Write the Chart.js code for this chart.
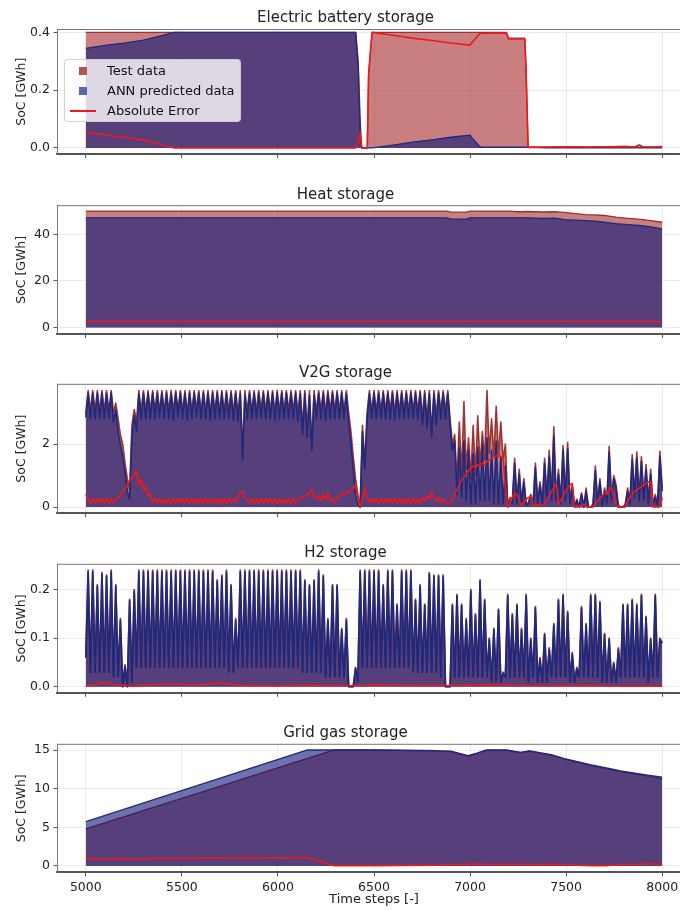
<!DOCTYPE html>
<html>
<head>
<meta charset="utf-8">
<script src="https://cdn.jsdelivr.net/npm/chart.js@4.4.1/dist/chart.umd.min.js"></script>
<style>
  html, body { margin: 0; padding: 0; background: #fff; }
  #fig { position: relative; width: 680px; height: 911px; overflow: hidden; }
  #fig canvas { position: absolute; left: 0; }
  #legend {
    position: absolute; left: 64px; top: 59px; width: 175px; height: 61px;
    background: rgba(255,255,255,0.8); border: 1px solid rgba(200,200,200,0.8);
    border-radius: 4px; font: 13px 'DejaVu Sans', sans-serif; color: #111;
  }
  #legend .row { display: flex; align-items: center; height: 19px; margin-top: 1px; }
  #legend .hb { width: 42px; height: 19px; position: relative; flex: none; }
  #legend .sq { position: absolute; left: 14px; top: 5.5px; width: 8px; height: 8px; }
  #legend .ln { position: absolute; left: 5px; top: 8.5px; width: 26px; height: 2px; background: rgb(240,25,25); }
</style>
</head>
<body>
<div id="fig">
  <canvas id="c1"></canvas>
  <canvas id="c2"></canvas>
  <canvas id="c3"></canvas>
  <canvas id="c4"></canvas>
  <canvas id="c5"></canvas>
  <div id="legend">
    <div class="row"><span class="hb"><span class="sq" style="background:#b05555"></span></span>Test data</div>
    <div class="row"><span class="hb"><span class="sq" style="background:#5a68b0"></span></span>ANN predicted data</div>
    <div class="row"><span class="hb"><span class="ln"></span></span>Absolute Error</div>
  </div>
</div>
<script>
// ===== DATA =====
const xTicks = [5000, 5500, 6000, 6500, 7000, 7500, 8000];

// Electric battery storage
const batX    = [5000,5100,5200,5300,5390,5460,5800,6100,6405,6418,6428,6436,6465,6472,6490,6600,6700,6800,6900,7000,7010,7030,7050,7060,7190,7200,7285,7292,7302,7400,7500,7600,7700,7800,7860,7880,7900,7960,8000];
const batTest = [0.4,0.4,0.4,0.4,0.4,0.4,0.4,0.4,0.4, 0.3,0.1,0,0,0.255,0.4, 0.4,0.4,0.4,0.4,0.4,0.4,0.4,0.4,0.4,0.4, 0.38,0.38,0.26,0.004, 0.003,0.004,0.003,0.004,0.005,0.004,0.01,0.004,0.003,0.005];
const batAnn  = [0.345,0.355,0.363,0.373,0.388,0.4,0.4,0.4,0.4, 0.28,0.05,0,0,0,0, 0.01,0.02,0.028,0.037,0.044,0.035,0.02,0.005,0.003,0.003, 0.003,0.003,0.003,0.002, 0,0,0,0,0,0,0,0,0,0];
const batErr  = [0.055,0.045,0.037,0.027,0.012,0,0,0,0, 0.02,0.05,0,0,0.255,0.4, 0.39,0.38,0.372,0.363,0.356,0.365,0.38,0.395,0.397,0.397, 0.377,0.377,0.257,0.002, 0.003,0.004,0.003,0.004,0.005,0.004,0.01,0.004,0.003,0.005];
const batTicks = [0, 0.2, 0.4];
const batTickLabels = ['0.0', '0.2', '0.4'];

// Heat storage
const heatX    = [5000,5500,6000,6500,6880,6900,6980,7000,7200,7250,7300,7380,7440,7490,7550,7600,7650,7700,7760,7820,7880,7940,8000];
const heatTest = [50,50,50,50,50,49.5,49.5,50,50,49.7,49.8,49.6,49.7,49.4,48.9,48.5,48.4,48.1,47.4,46.9,46.5,45.9,45.2];
const heatAnn  = [47.1,47.1,47.1,47.1,47.1,46.5,46.5,47.1,47.1,47.1,47.1,46.8,47,46.3,46.1,45.9,45.7,45.2,44.6,44.2,43.8,43.2,42.3];
const heatErr  = [2.6,2.6,2.6,2.65,2.7,2.7,2.7,2.7,2.7,2.7,2.7,2.7,2.7,2.65,2.6,2.6,2.6,2.6,2.6,2.6,2.6,2.6,2.6];
const heatTicks = [0, 20, 40];
const heatTickLabels = ['0', '20', '40'];

// V2G storage, sampled every 12 time steps from 5000 to 8000
const v2gTest = [
  2.95, 3.7, 3.05, 3.7, 3.05, 3.7, 3.05, 3.7, 3.05, 3.7,
  3.05, 3.7, 3.0, 3.3, 2.8, 2.3, 2.0, 1.4, 0.9, 0.55,
  2.6, 3.1, 2.7, 3.7, 3.05, 3.7, 3.05, 3.7, 3.05, 3.7,
  3.05, 3.7, 3.05, 3.7, 3.05, 3.7, 3.05, 3.7, 3.05, 3.7,
  3.1, 3.7, 3.05, 3.7, 3.0, 3.7, 3.05, 3.7, 3.1, 3.7,
  3.05, 3.7, 3.05, 3.7, 3.0, 3.7, 3.05, 3.7, 3.05, 3.7,
  3.05, 3.7, 3.05, 3.7, 3.0, 3.7, 3.0, 3.7, 1.8, 3.7,
  3.05, 3.7, 3.05, 3.7, 3.05, 3.7, 3.1, 3.7, 3.05, 3.7,
  3.05, 3.7, 3.0, 3.7, 3.05, 3.7, 3.05, 3.7, 3.05, 3.7,
  3.05, 3.7, 3.0, 3.7, 2.6, 3.7, 2.5, 3.7, 2.0, 3.7,
  3.05, 3.7, 3.05, 3.7, 3.0, 3.7, 3.05, 3.7, 3.05, 3.7,
  3.05, 3.7, 3.05, 3.7, 3.0, 2.4, 1.6, 0.9, 0.4, 0.0,
  2.6, 1.4, 3.0, 3.7, 3.05, 3.7, 3.05, 3.7, 3.05, 3.7,
  3.05, 3.7, 3.05, 3.7, 3.0, 3.7, 3.05, 3.7, 3.05, 3.7,
  3.05, 3.7, 3.05, 3.7, 3.05, 3.7, 2.9, 3.7, 2.8, 3.7,
  2.4, 3.7, 2.9, 3.7, 3.05, 3.7, 3.05, 3.7, 2.8, 2.0,
  2.3, 0.8, 2.7, 1.0, 3.35, 1.2, 2.2, 0.9, 2.6, 1.0,
  2.9, 1.3, 2.4, 1.5, 3.7, 1.7, 2.8, 1.6, 3.2, 1.6,
  2.7, 1.5, 2.0, 0.1, 0.3, 0.2, 1.55, 0.2, 1.2, 0.15,
  0.9, 0.1, 0.15, 0.4, 0.1, 1.4, 0.2, 0.8, 0.15, 1.55,
  0.3, 1.8, 0.4, 2.55, 0.3, 1.2, 0.2, 1.95, 0.4, 2.05,
  0.2, 0.7, 0.05, 0.25, 0.0, 0.45, 0.0, 0.6, 0.0, 0.0,
  0.1, 1.3, 0.2, 0.9, 0.1, 0.6, 0.2, 1.93, 0.3, 1.0,
  0.7, 0.05, 0.0, 0.0, 0.1, 0.6, 0.2, 1.66, 0.4, 1.75,
  0.3, 1.6, 0.3, 1.35, 0.2, 1.2, 0.1, 0.4, 0.1, 1.77,
  0.6
];
const v2gAnn = [
  2.85, 3.62, 2.8, 3.62, 2.8, 3.62, 2.8, 3.62, 2.8, 3.62,
  2.8, 3.62, 2.7, 3.1, 2.4, 2.0, 1.6, 1.1, 0.5, 0.25,
  2.2, 2.9, 2.4, 3.6, 2.8, 3.62, 2.8, 3.62, 2.8, 3.62,
  2.8, 3.62, 2.85, 3.62, 2.8, 3.62, 2.8, 3.62, 2.75, 3.62,
  2.85, 3.62, 2.8, 3.62, 2.75, 3.62, 2.8, 3.62, 2.85, 3.62,
  2.8, 3.62, 2.8, 3.62, 2.75, 3.62, 2.8, 3.62, 2.8, 3.62,
  2.8, 3.62, 2.8, 3.62, 2.75, 3.62, 2.7, 3.6, 1.5, 3.55,
  2.8, 3.62, 2.8, 3.62, 2.8, 3.62, 2.85, 3.62, 2.8, 3.62,
  2.8, 3.62, 2.75, 3.62, 2.8, 3.62, 2.8, 3.62, 2.8, 3.62,
  2.8, 3.62, 2.7, 3.6, 2.3, 3.6, 2.2, 3.55, 1.8, 3.55,
  2.8, 3.62, 2.8, 3.62, 2.75, 3.62, 2.8, 3.62, 2.8, 3.62,
  2.8, 3.62, 2.8, 3.6, 2.7, 2.0, 1.2, 0.4, 0.05, 0.0,
  2.4, 1.2, 2.8, 3.6, 2.8, 3.62, 2.8, 3.62, 2.8, 3.62,
  2.8, 3.62, 2.8, 3.62, 2.75, 3.62, 2.8, 3.62, 2.8, 3.62,
  2.8, 3.62, 2.8, 3.62, 2.8, 3.62, 2.6, 3.6, 2.5, 3.6,
  2.2, 3.6, 2.6, 3.62, 2.8, 3.62, 2.8, 3.6, 2.6, 1.8,
  2.1, 0.4, 1.9, 0.3, 2.1, 0.2, 1.8, 0.1, 1.7, 0.1,
  1.9, 0.2, 2.0, 0.2, 2.2, 0.2, 1.8, 0.1, 2.1, 0.1,
  1.6, 0.1, 1.3, 0.0, 0.2, 0.1, 1.4, 0.1, 1.05, 0.1,
  0.8, 0.05, 0.1, 0.35, 0.05, 1.25, 0.1, 0.7, 0.1, 1.4,
  0.2, 1.6, 0.2, 2.25, 0.2, 1.05, 0.1, 1.8, 0.2, 1.85,
  0.1, 0.6, 0.0, 0.2, 0.0, 0.4, 0.0, 0.5, 0.0, 0.0,
  0.05, 1.15, 0.1, 0.8, 0.05, 0.5, 0.1, 1.75, 0.2, 0.9,
  0.6, 0.0, 0.0, 0.0, 0.05, 0.5, 0.1, 1.5, 0.3, 1.55,
  0.2, 1.45, 0.2, 1.2, 0.1, 1.05, 0.05, 0.3, 0.05, 1.6,
  0.5
];
const v2gErr = [
  0.4, 0.25, 0.12, 0.27, 0.12, 0.27, 0.12, 0.27, 0.12, 0.27,
  0.12, 0.25, 0.15, 0.2, 0.3, 0.4, 0.5, 0.6, 0.7, 0.85,
  0.95, 1.05, 1.15, 0.7, 0.9, 0.55, 0.65, 0.35, 0.4, 0.15,
  0.27, 0.12, 0.27, 0.12, 0.25, 0.12, 0.27, 0.1, 0.27, 0.12,
  0.27, 0.12, 0.25, 0.12, 0.27, 0.12, 0.27, 0.1, 0.27, 0.12,
  0.27, 0.12, 0.27, 0.12, 0.25, 0.12, 0.27, 0.12, 0.27, 0.1,
  0.27, 0.12, 0.27, 0.12, 0.27, 0.15, 0.3, 0.45, 0.5, 0.3,
  0.2, 0.12, 0.27, 0.12, 0.27, 0.12, 0.25, 0.12, 0.27, 0.12,
  0.27, 0.1, 0.27, 0.12, 0.27, 0.12, 0.25, 0.12, 0.27, 0.12,
  0.27, 0.12, 0.2, 0.3, 0.3, 0.35, 0.4, 0.45, 0.55, 0.3,
  0.25, 0.35, 0.2, 0.4, 0.25, 0.45, 0.2, 0.25, 0.15, 0.3,
  0.35, 0.45, 0.4, 0.5, 0.45, 0.55, 0.6, 0.7, 0.3, 0.0,
  0.3, 0.6, 0.3, 0.15, 0.27, 0.12, 0.27, 0.12, 0.27, 0.12,
  0.27, 0.12, 0.25, 0.12, 0.27, 0.12, 0.27, 0.1, 0.27, 0.12,
  0.27, 0.12, 0.27, 0.12, 0.25, 0.12, 0.3, 0.2, 0.35, 0.25,
  0.45, 0.3, 0.2, 0.3, 0.15, 0.27, 0.12, 0.1, 0.15, 0.25,
  0.4, 0.55, 0.7, 0.85, 0.95, 1.05, 1.15, 1.25, 1.3, 1.25,
  1.35, 1.3, 1.4, 1.35, 1.45, 1.5, 1.55, 1.6, 1.62, 1.65,
  1.6, 1.55, 0.6, 0.0, 0.15, 0.3, 0.45, 0.4, 0.2, 0.05,
  0.15, 0.25, 0.3, 0.33, 0.05, 0.05, 0.08, 0.05, 0.05, 0.1,
  0.25, 0.35, 0.5, 0.6, 0.75, 0.1, 0.2, 0.35, 0.5, 0.6,
  0.7, 0.75, 0.0, 0.0, 0.05, 0.0, 0.1, 0.0, 0.0, 0.0,
  0.0, 0.1, 0.2, 0.3, 0.35, 0.45, 0.4, 0.55, 0.63, 0.3,
  0.05, 0.0, 0.0, 0.0, 0.0, 0.2, 0.3, 0.4, 0.5, 0.55,
  0.6, 0.65, 0.7, 0.75, 0.8, 0.8, 0.0, 0.0, 0.0, 0.0,
  0.3
];
const v2gTicks = [0, 2];
const v2gTickLabels = ['0', '2'];

// H2 storage: one charging spike per day (24 steps); peak of each day and the lows between
const h2PeakTest = [
  0.24, 0.24, 0.21, 0.235, 0.23, 0.24, 0.21, 0.14, 0.045, 0.18,
  0.2, 0.24, 0.24, 0.24, 0.24, 0.24, 0.24, 0.24, 0.24, 0.24,
  0.24, 0.24, 0.24, 0.24, 0.24, 0.24, 0.24, 0.24, 0.22, 0.23,
  0.24, 0.21, 0.14, 0.24, 0.24, 0.24, 0.24, 0.24, 0.24, 0.24,
  0.24, 0.24, 0.24, 0.24, 0.24, 0.24, 0.24, 0.22, 0.21, 0.22,
  0.24, 0.23, 0.14, 0.21, 0.21, 0.12, 0.14, 0.0, 0.04, 0.24,
  0.24, 0.24, 0.24, 0.24, 0.21, 0.24, 0.24, 0.17, 0.24, 0.24,
  0.24, 0.18, 0.21, 0.17, 0.235, 0.23, 0.23, 0.23, 0.0, 0.17,
  0.19, 0.17, 0.14, 0.2, 0.15, 0.22, 0.18, 0.1, 0.12, 0.16,
  0.03, 0.19, 0.15, 0.17, 0.12, 0.19, 0.1, 0.165, 0.06, 0.11,
  0.08, 0.13, 0.18, 0.19, 0.155, 0.07, 0.04, 0.165, 0.13, 0.19,
  0.19, 0.175, 0.11, 0.1, 0.05, 0.08, 0.17, 0.17, 0.18, 0.17,
  0.19, 0.145, 0.1, 0.19, 0.1
];
const h2PeakAnn = [
  0.236, 0.236, 0.207, 0.232, 0.227, 0.236, 0.207, 0.137, 0.042, 0.177,
  0.197, 0.236, 0.236, 0.236, 0.236, 0.236, 0.236, 0.236, 0.236, 0.236,
  0.236, 0.236, 0.236, 0.236, 0.236, 0.236, 0.236, 0.236, 0.217, 0.227,
  0.236, 0.207, 0.137, 0.236, 0.236, 0.236, 0.236, 0.236, 0.236, 0.236,
  0.236, 0.236, 0.236, 0.236, 0.236, 0.236, 0.236, 0.217, 0.207, 0.217,
  0.236, 0.227, 0.137, 0.207, 0.207, 0.117, 0.137, 0.0, 0.037, 0.236,
  0.236, 0.236, 0.236, 0.236, 0.207, 0.236, 0.236, 0.167, 0.236, 0.236,
  0.236, 0.177, 0.207, 0.167, 0.232, 0.227, 0.227, 0.227, 0.0, 0.167,
  0.187, 0.167, 0.137, 0.197, 0.147, 0.217, 0.177, 0.097, 0.117, 0.157,
  0.027, 0.187, 0.147, 0.167, 0.117, 0.187, 0.097, 0.162, 0.057, 0.107,
  0.077, 0.127, 0.177, 0.187, 0.152, 0.067, 0.037, 0.162, 0.127, 0.187,
  0.187, 0.172, 0.107, 0.097, 0.047, 0.077, 0.167, 0.167, 0.177, 0.167,
  0.187, 0.142, 0.097, 0.187, 0.097
];
const h2Low = [
  0.06, 0.03, 0.03, 0.03, 0.03, 0.03, 0.02, 0.02, 0.0, 0.0,
  0.01, 0.04, 0.04, 0.04, 0.04, 0.04, 0.04, 0.04, 0.04, 0.04,
  0.04, 0.04, 0.04, 0.04, 0.04, 0.04, 0.04, 0.04, 0.04, 0.04,
  0.04, 0.03, 0.03, 0.04, 0.04, 0.04, 0.04, 0.04, 0.04, 0.04,
  0.04, 0.04, 0.04, 0.04, 0.04, 0.04, 0.04, 0.03, 0.03, 0.03,
  0.03, 0.03, 0.02, 0.02, 0.02, 0.02, 0.02, 0.0, 0.0, 0.01,
  0.04, 0.04, 0.04, 0.04, 0.04, 0.04, 0.04, 0.04, 0.04, 0.04,
  0.04, 0.03, 0.03, 0.03, 0.03, 0.03, 0.03, 0.02, 0.0, 0.0,
  0.02, 0.02, 0.02, 0.02, 0.02, 0.02, 0.02, 0.02, 0.01, 0.01,
  0.01, 0.02, 0.02, 0.02, 0.02, 0.02, 0.01, 0.02, 0.01, 0.01,
  0.01, 0.02, 0.02, 0.02, 0.02, 0.01, 0.01, 0.02, 0.02, 0.02,
  0.02, 0.02, 0.01, 0.01, 0.01, 0.01, 0.02, 0.02, 0.02, 0.02,
  0.02, 0.02, 0.01, 0.02, 0.02, 0.09
];
const h2ErrX = [5000,5050,5100,5150,5200,5250,5300,5400,5500,5600,5700,5800,5900,6000,6200,6400,6500,6600,6800,7000,7100,7200,7400,7600,7800,8000];
const h2Err  = [0.003,0.004,0.009,0.004,0.003,0.001,0.004,0.005,0.005,0.004,0.008,0.003,0.002,0.002,0.003,0.002,0.004,0.003,0.002,0.003,0.004,0.003,0.002,0.003,0.001,0.001];
const h2Ticks = [0, 0.1, 0.2];
const h2TickLabels = ['0.0', '0.1', '0.2'];

// Grid gas storage
const gasX    = [5000,6150,6290,6500,6800,6900,6990,7036,7082,7195,7263,7309,7422,7490,7558,7625,7716,7784,7874,7942,8000];
const gasTest = [4.79,13.89,15,15,14.95,14.8,14.2,14.55,14.95,14.95,14.65,14.85,14.35,13.85,13.45,13.0,12.55,12.2,11.85,11.55,11.3];
const gasAnn  = [5.73,15,15,15,14.9,14.85,14.27,14.6,15,15,14.7,14.9,14.4,13.9,13.5,13.1,12.65,12.3,11.95,11.7,11.5];
const gasErr  = [0.9,1.1,0.05,0.05,0.1,0.15,0.2,0.25,0.2,0.2,0.2,0.15,0.2,0.15,0.1,0.05,0.05,0.15,0.2,0.25,0.25];
const gasTicks = [0, 5, 10, 15];
const gasTickLabels = ['0', '5', '10', '15'];

// ===== STYLE =====
const FONT = "'DejaVu Sans', sans-serif";
const TEST_FILL = 'rgba(165,42,42,0.6)';
const TEST_LINE = 'rgba(150,35,35,0.9)';
const ANN_FILL = 'rgba(10,20,120,0.6)';
const ANN_LINE = 'rgb(30,42,125)';
const ERR_LINE = 'rgb(240,25,25)';
const GRID = 'rgba(200,200,200,0.35)';
Chart.defaults.font.family = FONT;

const pts = (xs, ys) => xs.map((x, i) => ({x, y: ys[i]}));
const v2gX = v2gTest.map((_, i) => 5000 + 12 * i);
const dailySpikes = (peaks, lows) => {
  const out = [];
  lows.forEach((lo, k) => {
    out.push({x: 5000 + 24 * k, y: lo});
    if (k < peaks.length) out.push({x: 5012 + 24 * k, y: peaks[k]});
  });
  return out;
};

// top spine (right one falls outside the page)
const frame = {
  id: 'frame',
  afterDraw(chart) {
    const {ctx, chartArea: a} = chart;
    ctx.save();
    ctx.strokeStyle = '#777';
    ctx.lineWidth = 1;
    ctx.beginPath();
    ctx.moveTo(a.left, a.top);
    ctx.lineTo(a.right, a.top);
    ctx.lineTo(a.right, a.bottom);
    ctx.stroke();
    ctx.restore();
  }
};

const panels = [
  {id: 'c1', top: 0, h: 170, plotTop: 29.5, plotBottom: 154, title: 'Electric battery storage',
   yMin: -0.021, yMax: 0.41, ticks: batTicks, labels: batTickLabels, lw: 1.3,
   test: pts(batX, batTest), ann: pts(batX, batAnn), err: pts(batX, batErr)},
  {id: 'c2', top: 175, h: 170, plotTop: 205.7, plotBottom: 334, title: 'Heat storage',
   yMin: -2.8, yMax: 52.3, ticks: heatTicks, labels: heatTickLabels, lw: 1.3,
   test: pts(heatX, heatTest), ann: pts(heatX, heatAnn), err: pts(heatX, heatErr)},
  {id: 'c3', top: 354, h: 170, plotTop: 384.3, plotBottom: 513.3, title: 'V2G storage',
   yMin: -0.19, yMax: 3.9, ticks: v2gTicks, labels: v2gTickLabels, lw: 1.6,
   test: pts(v2gX, v2gTest), ann: pts(v2gX, v2gAnn), err: pts(v2gX, v2gErr)},
  {id: 'c4', top: 534, h: 170, plotTop: 564.3, plotBottom: 692.7, title: 'H2 storage',
   yMin: -0.0124, yMax: 0.252, ticks: h2Ticks, labels: h2TickLabels, lw: 1.7,
   test: dailySpikes(h2PeakTest, h2Low), ann: dailySpikes(h2PeakAnn, h2Low), err: pts(h2ErrX, h2Err)},
  {id: 'c5', top: 714, h: 197, plotTop: 744.3, plotBottom: 872.3, title: 'Grid gas storage',
   yMin: -0.82, yMax: 15.74, ticks: gasTicks, labels: gasTickLabels, lw: 1.3,
   test: pts(gasX, gasTest), ann: pts(gasX, gasAnn), err: pts(gasX, gasErr), showX: true}
];

const TITLE_BOX = 15 * 1.2 + 2; // title line height + bottom padding

panels.forEach(p => {
  const el = document.getElementById(p.id);
  el.width = 700;
  el.height = p.h;
  el.style.top = p.top + 'px';
  const xH = p.h - (p.plotBottom - p.top);

  new Chart(el.getContext('2d'), {
    type: 'line',
    data: {
      datasets: [
        {label: 'Test data', data: p.test, order: 2, fill: 'origin',
         backgroundColor: TEST_FILL, borderColor: TEST_LINE, borderWidth: p.lw},
        {label: 'ANN predicted data', data: p.ann, order: 1, fill: 'origin',
         backgroundColor: ANN_FILL, borderColor: ANN_LINE, borderWidth: p.lw},
        {label: 'Absolute Error', data: p.err, order: 0, fill: false,
         borderColor: ERR_LINE, borderWidth: 1.6}
      ]
    },
    options: {
      responsive: false,
      animation: false,
      devicePixelRatio: 1,
      events: [],
      layout: {padding: {top: p.plotTop - p.top - TITLE_BOX, left: 0, right: 9, bottom: 0}},
      elements: {point: {radius: 0}, line: {tension: 0, borderJoinStyle: 'round'}},
      plugins: {
        legend: {display: false},
        tooltip: {enabled: false},
        title: {display: true, text: p.title, color: '#222',
                font: {size: 15, weight: 'normal'}, padding: {top: 0, bottom: 2}}
      },
      scales: {
        x: {
          type: 'linear', min: 4850, max: 8150, z: 1,
          afterBuildTicks: s => { s.ticks = xTicks.map(v => ({value: v})); },
          afterFit: s => { s.height = xH; },
          ticks: {display: !!p.showX, callback: v => String(v), color: '#222',
                  font: {size: 12.5}, padding: 4, maxRotation: 0, autoSkip: false},
          grid: {color: GRID, tickColor: '#555', tickLength: 4},
          border: {color: '#555', width: 2},
          title: {display: !!p.showX, text: 'Time steps [-]', color: '#222',
                  font: {size: 13}, padding: {top: 0, bottom: 3.2}}
        },
        y: {
          min: p.yMin, max: p.yMax, z: 1,
          afterBuildTicks: s => { s.ticks = p.ticks.map(v => ({value: v})); },
          afterFit: s => { s.width = 57; },
          ticks: {callback: v => p.labels[p.ticks.indexOf(v)], color: '#222',
                  font: {size: 12.5}, padding: 3.5, autoSkip: false},
          grid: {color: GRID, tickColor: '#555', tickLength: 3.5},
          border: {color: '#777', width: 1},
          title: {display: true, text: 'SoC [GWh]', color: '#222',
                  font: {size: 12.5}, padding: {top: 14.5, bottom: 0}}
        }
      }
    },
    plugins: [frame]
  });
});
</script>
</body>
</html>
